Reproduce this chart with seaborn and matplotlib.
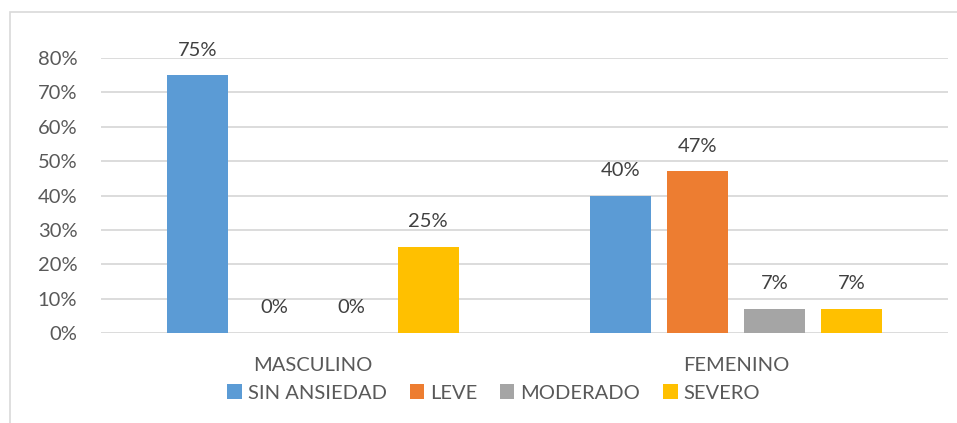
import pandas as pd
import matplotlib.pyplot as plt
import matplotlib.patches as mpatches
import seaborn as sns

# chart data
generos = ["MASCULINO", "FEMENINO"]
niveles = ["SIN ANSIEDAD", "LEVE", "MODERADO", "SEVERO"]
sin_ansiedad = [0.75, 0.40]
leve = [0.00, 0.47]
moderado = [0.00, 0.07]
severo = [0.25, 0.07]
colores = ["#5B9BD5", "#ED7D31", "#A5A5A5", "#FFC000"]

rows = []
for nivel, vals in zip(niveles, [sin_ansiedad, leve, moderado, severo]):
    for g, v in zip(generos, vals):
        rows.append({"genero": g, "nivel": nivel, "valor": v})
df = pd.DataFrame(rows)

sns.set_theme(style="white")
plt.rcParams["font.family"] = ["Lato", "DejaVu Sans"]
txt = "#595959"

fig = plt.figure(figsize=(9.57, 4.23), dpi=100)
ax = fig.add_axes([0.1055, 0.2128, 0.885, 0.650])

# light outer border like the Excel chart area
fig.patches.append(mpatches.Rectangle((0.0105, -0.2), 1.2, 0.9716 + 0.2,
                                      transform=fig.transFigure, fill=False,
                                      edgecolor="#D9D9D9", lw=1.2))

sns.barplot(data=df, x="genero", y="valor", hue="nivel", order=generos,
            hue_order=niveles, palette=colores, width=0.727, gap=0.21,
            saturation=1, linewidth=0, ax=ax, errorbar=None)

for cont in ax.containers:
    ax.bar_label(cont, fmt="{:.0%}", padding=12, fontsize=14.5, color="#404040")

ax.set_ylim(0, 0.8)
ax.set_yticks([i / 10 for i in range(9)])
ax.set_yticklabels([f"{i * 10}%" for i in range(9)])
ax.yaxis.grid(True, color="#D9D9D9", lw=1.3)
ax.set_axisbelow(True)
sns.despine(ax=ax, left=True, bottom=True)
ax.tick_params(axis="y", length=0, pad=17, labelsize=14.5, labelcolor=txt)
ax.tick_params(axis="x", length=0, pad=17, labelsize=14.5, labelcolor=txt)
ax.set_xlabel("")
ax.set_ylabel("")

sns.move_legend(ax, "center", bbox_to_anchor=(0.516, 0.071),
                bbox_transform=fig.transFigure, ncol=4, frameon=False,
                title=None, fontsize=14.5, handlelength=0.7, handleheight=0.7,
                handletextpad=0.3, columnspacing=1.15, labelcolor=txt)

plt.savefig("out.png", dpi=100)
plt.close()
